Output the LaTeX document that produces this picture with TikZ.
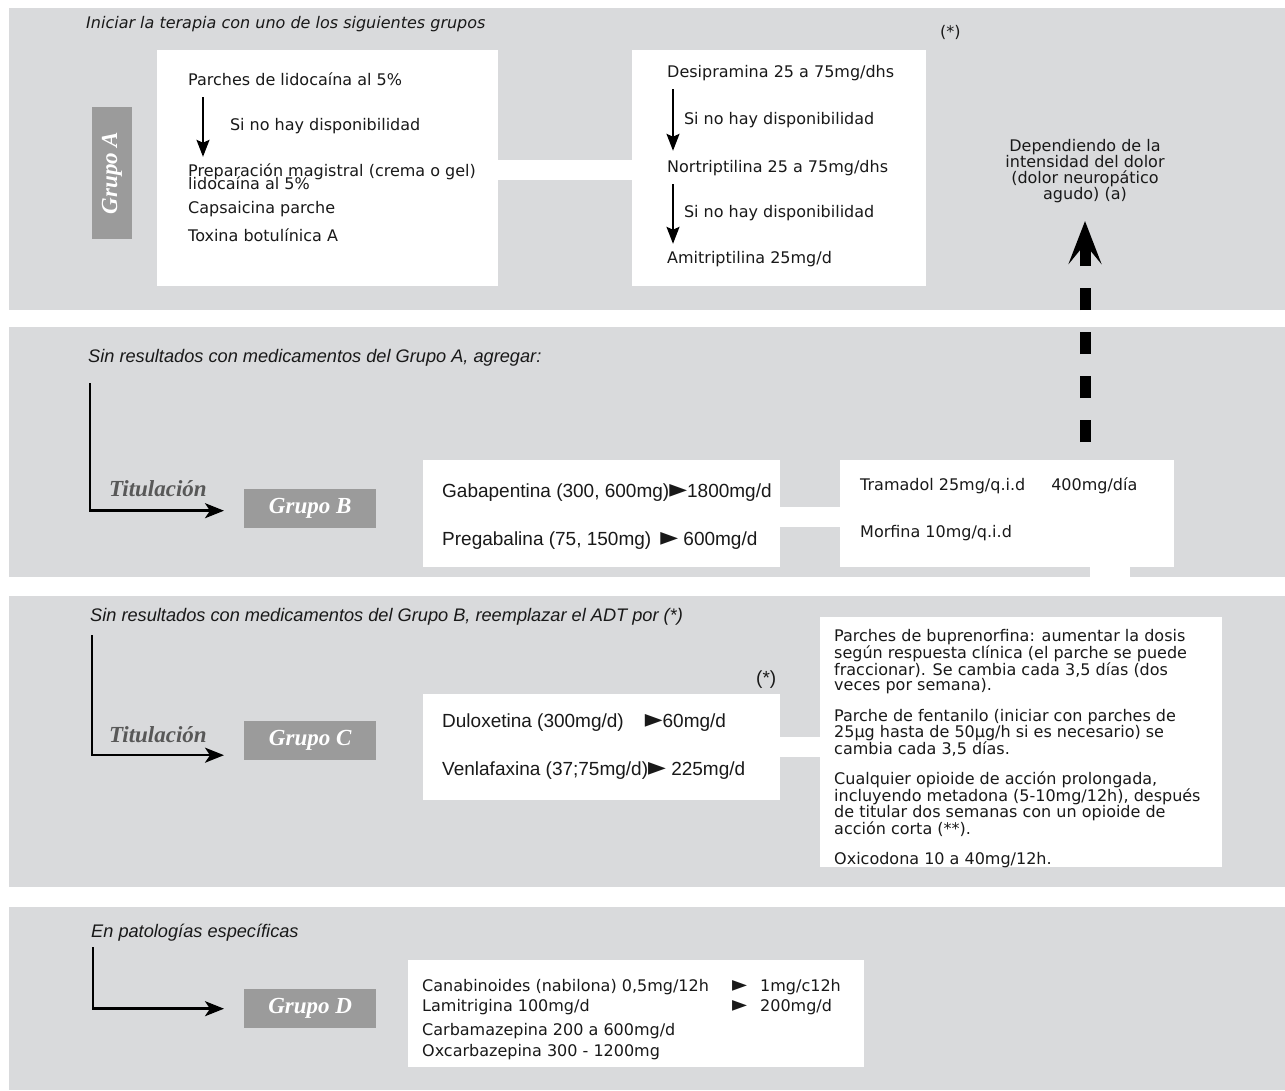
\documentclass[tikz,border=0pt]{standalone}
\usepackage{fontspec}
\usepackage{graphicx}
\setmainfont{DejaVu Sans}
\newfontfamily\narrowfont{Liberation Sans}
\newfontfamily\grupofont{Liberation Serif}
\usetikzlibrary{arrows.meta,positioning}

\definecolor{fondo}{RGB}{217,218,220}
\definecolor{gris}{RGB}{155,155,155}
\definecolor{grisosc}{RGB}{88,88,88}

% triangulo negro de las dosis
\newcommand{\flechita}{{\normalfont\scalebox{1.22}[1.35]{►}}}

\begin{document}
\begin{tikzpicture}[x=1pt, y=-1pt,
    txt/.style={anchor=base west, inner sep=0pt, text height=12pt, text depth=4pt,
        text=black!90, font=\fontsize{16}{16}\selectfont},
    titulo/.style={txt, font=\fontsize{16}{16}\selectfont\itshape},
    ntxt/.style={anchor=base west, inner sep=0pt, text=black!90,
        font=\narrowfont\fontsize{19}{19}\selectfont},
    ntitulo/.style={ntxt, text height=13pt, text depth=4pt,
        font=\narrowfont\itshape\fontsize{18.2}{18}\selectfont},
    caja/.style={fill=white, inner sep=0pt, anchor=north west},
    grupo/.style={fill=gris, text=white, inner sep=0pt,
        font=\grupofont\bfseries\itshape\fontsize{23}{23}\selectfont},
    titul/.style={anchor=base west, inner sep=0pt, text=grisosc,
        font=\grupofont\bfseries\itshape\fontsize{23}{23}\selectfont},
    flechafina/.style={-{Stealth[length=17pt,width=13pt,inset=3pt]}, line width=2pt,
        shorten <=8pt, shorten >=7pt},
    flechaL/.style={-{Stealth[length=19pt,width=15pt,inset=5pt]}, line width=2.5pt,
        shorten >=20pt},
    flechaguion/.style={-{Stealth[length=43pt,width=33pt,inset=20pt]}, line width=11pt,
        dash pattern=on 22pt off 22pt},
    puente/.style={white, line width=20pt},
]

    % Paneles de fondo
    \fill[white] (0,0) rectangle (1285,1090);
    \fill[fondo] (9,8) rectangle (1285,310);
    \fill[fondo] (9,327) rectangle (1285,577);
    \fill[fondo] (9,596) rectangle (1285,887);
    \fill[fondo] (9,907) rectangle (1285,1090);
    \useasboundingbox (0,0) rectangle (1285,1090);

    % Grupo A
    \node[titulo] (iniA) at (86,28) {Iniciar la terapia con uno de los siguientes grupos};
    \node[grupo, rotate=90, minimum width=132pt, minimum height=40pt] (grpA) at (112,173) {Grupo A};
    \node[caja, minimum width=341pt, minimum height=236pt] (cajaA1) at (157,50) {};
    \node[caja, minimum width=294pt, minimum height=236pt] (cajaA2) at (632,50) {};
    \draw[puente] ([yshift=-2pt]cajaA1.east) -- ([yshift=-2pt]cajaA2.west);

    \node[txt] (lido) at (188,85) {Parches de lidocaína al 5\%};
    \node[txt] (prep) at (188,176) {Preparación magistral (crema o gel)};
    \node[txt] (prep2) at (188,189) {lidocaína al 5\%};
    \node[txt] (caps) at (188,213) {Capsaicina parche};
    \node[txt] (toxina) at (188,241) {Toxina botulínica A};
    \draw[flechafina] ([xshift=15pt]lido.south west) -- ([xshift=15pt]prep.north west)
        node[txt, midway, right=26pt] {Si no hay disponibilidad};

    \node[txt] (desip) at (667,77) {Desipramina 25 a 75mg/dhs};
    \node[txt] (nortrip) at (667,172) {Nortriptilina 25 a 75mg/dhs};
    \node[txt] (amitrip) at (667,263) {Amitriptilina 25mg/d};
    \draw[flechafina, shorten >=9pt] ([xshift=6pt]desip.south west) -- ([xshift=6pt]nortrip.north west)
        node[txt, midway, right=10pt] {Si no hay disponibilidad};
    \draw[flechafina, shorten >=7pt] ([xshift=6pt]nortrip.south west) -- ([xshift=6pt]amitrip.north west)
        node[txt, midway, right=10pt] {Si no hay disponibilidad};
    \node[txt] (astA) at (940,37) {(*)};

    \node[align=center, anchor=north, inner sep=0pt, text=black!90,
        font=\fontsize{16}{15.2}\selectfont] (dep) at (1085,139)
        {Dependiendo de la\\intensidad del dolor\\(dolor neuropático\\agudo) (a)};

    % Grupo B
    \node[ntitulo] (iniB) at (88,362) {Sin resultados con medicamentos del Grupo A, agregar:};
    \node[grupo, minimum width=132pt, minimum height=39pt, anchor=north west] (grpB) at (244,489) {Grupo B};
    \node[titul] (titB) at (109,496) {Titulación};
    \draw[flechaL, shorten <=17pt] ([xshift=2pt]iniB.south west) |- ([yshift=-2pt]grpB.west);

    \node[caja, minimum width=357pt, minimum height=107pt] (cajaB1) at (423,460) {};
    \node[caja, minimum width=334pt, minimum height=107pt] (cajaB2) at (840,460) {};
    \draw[puente] ([yshift=-3.5pt]cajaB1.east) -- ([yshift=-3.5pt]cajaB2.west);
    \draw[white, line width=40pt] ([xshift=103pt]cajaB2.south) -- ++(0,10);

    \node[ntxt] (gaba) at (442,497) {Gabapentina (300, 600mg)\flechita1800mg/d};
    \node[ntxt] (prega) at (442,545) {Pregabalina (75, 150mg)\hspace{9pt}\flechita\ 600mg/d};
    \node[txt] (trama) at (860,490) {Tramadol 25mg/q.i.d\hspace{26pt}400mg/día};
    \node[txt] (morf) at (860,537) {Morfina 10mg/q.i.d};

    \draw[flechaguion, shorten <=18pt, shorten >=18pt] (dep.south |- cajaB2.north) -- (dep.south);

    % Grupo C
    \node[ntitulo] (iniC) at (90,621) {Sin resultados con medicamentos del Grupo B, reemplazar el ADT por (*)};
    \node[grupo, minimum width=132pt, minimum height=39pt, anchor=north west] (grpC) at (244,721) {Grupo C};
    \node[titul] (titC) at (109,742) {Titulación};
    \draw[flechaL, shorten <=10pt] ([xshift=2pt]iniC.south west) |- ([yshift=-14.5pt]grpC.west);

    \node[caja, minimum width=357pt, minimum height=106pt] (cajaC1) at (423,694) {};
    \node[caja, minimum width=402pt, minimum height=250pt] (cajaC2) at (820,617) {};
    \draw[puente] (cajaC1.east) -- (cajaC1.east -| cajaC2.west);
    \node[ntxt] (astC) at (756,684) {(*)};

    \node[ntxt] (dulox) at (442,727) {Duloxetina (300mg/d)\hspace{21pt}\flechita60mg/d};
    \node[ntxt] (venla) at (442,775) {Venlafaxina (37;75mg/d)\flechita\ 225mg/d};

    \node[align=left, anchor=north west, inner sep=0pt, text=black!90,
        font=\fontsize{16}{14.7}\selectfont] (opioides) at (834,629)
        {Parches de buprenorfina: aumentar la dosis\\
         según respuesta clínica (el parche se puede\\
         fraccionar). Se cambia cada 3,5 días (dos\\
         veces por semana).\\[14.5pt]
         Parche de fentanilo (iniciar con parches de\\
         25µg hasta de 50µg/h si es necesario) se\\
         cambia cada 3,5 días.\\[14.5pt]
         Cualquier opioide de acción prolongada,\\
         incluyendo metadona (5-10mg/12h), después\\
         de titular dos semanas con un opioide de\\
         acción corta (**).\\[14.5pt]
         Oxicodona 10 a 40mg/12h.};

    % Grupo D
    \node[ntitulo] (iniD) at (91,937) {En patologías específicas};
    \node[grupo, minimum width=132pt, minimum height=39pt, anchor=north west] (grpD) at (244,989) {Grupo D};
    \draw[flechaL, shorten <=6pt] ([xshift=2pt]iniD.south west) |- (grpD.west);

    \node[caja, minimum width=456pt, minimum height=107pt] (cajaD) at (408,960) {};
    \node[txt] (canab) at (422,991) {\makebox[310pt][l]{Canabinoides (nabilona) 0,5mg/12h}\flechita\hspace{13pt}1mg/c12h};
    \node[txt] (lamit) at (422,1011) {\makebox[310pt][l]{Lamitrigina 100mg/d}\flechita\hspace{13pt}200mg/d};
    \node[txt] (carba) at (422,1035) {Carbamazepina 200 a 600mg/d};
    \node[txt] (oxcar) at (422,1056) {Oxcarbazepina 300 - 1200mg};

\end{tikzpicture}
\end{document}
